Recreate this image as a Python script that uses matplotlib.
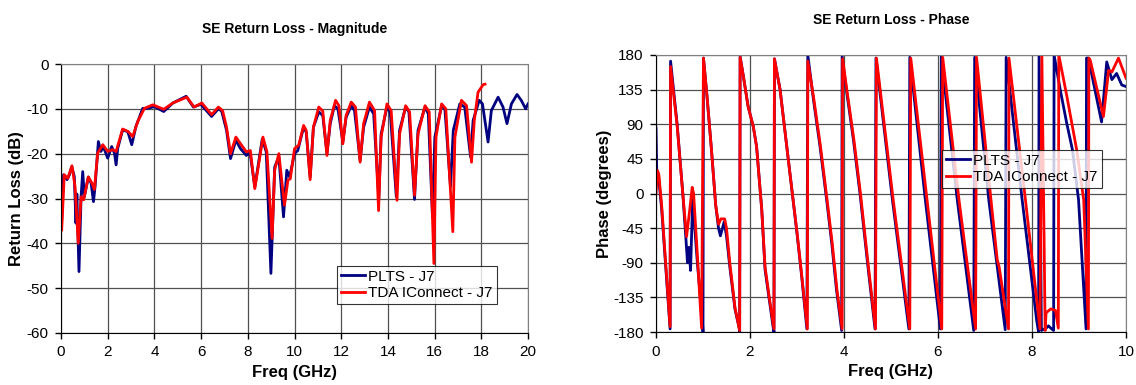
import numpy as np
import matplotlib
matplotlib.use("Agg")
from matplotlib import pyplot as plt

plt.rcParams["font.family"] = ["Liberation Sans", "DejaVu Sans"]
plt.rcParams["axes.unicode_minus"] = False

# ---- SE return loss magnitude (dB) ----
freq_mag_plts = [0.03, 0.11, 0.26, 0.36, 0.46, 0.57, 0.64, 0.68, 0.77, 0.86, 0.93, 1.0, 1.17, 1.29, 1.39, 1.46,
                 1.6, 1.71, 1.81, 2.0, 2.17, 2.29, 2.36, 2.43, 2.64, 2.86, 3.03, 3.21, 3.5, 3.71, 4.0, 4.4,
                 4.79, 5.36, 5.67, 5.99, 6.45, 6.74, 6.88, 7.09, 7.26, 7.49, 7.69, 7.94, 8.09, 8.3, 8.62,
                 8.79, 8.99, 9.15, 9.33, 9.53, 9.67, 9.79, 10.0, 10.14, 10.39, 10.5, 10.67, 10.81, 11.04,
                 11.21, 11.39, 11.53, 11.71, 11.86, 12.07, 12.21, 12.43, 12.57, 12.81, 12.96, 13.21, 13.39,
                 13.61, 13.71, 13.96, 14.1, 14.36, 14.5, 14.76, 14.9, 15.14, 15.29, 15.59, 15.73, 15.91,
                 16.01, 16.3, 16.44, 16.68, 16.8, 17.08, 17.29, 17.54, 17.65, 17.91, 18.05, 18.29, 18.43,
                 18.72, 18.93, 19.1, 19.29, 19.53, 19.71, 19.9, 20.0]
rl_plts = [-35, -24.7, -25.8, -24.7, -22.9, -25.1, -35.5, -29, -46.3, -29.6, -24.0, -29.6, -25.2, -26.6,
           -30.7, -27.3, -17.3, -19.5, -18.4, -21.0, -18.4, -19.9, -22.5, -18.8, -14.7, -15.1, -18.0, -13.9,
           -9.9, -9.9, -9.5, -10.6, -8.7, -7.2, -9.6, -9.0, -11.7, -10.0, -10.5, -14.8, -21.1, -17.0, -18.9,
           -20.4, -19.6, -27.4, -16.7, -19.6, -46.7, -23.0, -20.7, -34.1, -23.7, -25.2, -20.0, -19.3, -14.1,
           -15.2, -25.2, -14.1, -10.7, -11.5, -20.0, -13.3, -9.3, -10.0, -17.4, -11.9, -9.3, -10.4, -21.5,
           -14.1, -9.6, -11.1, -30.0, -15.6, -9.6, -10.7, -29.6, -14.8, -9.6, -10.7, -30.2, -14.8, -9.6,
           -11.1, -34.1, -16.3, -9.3, -10.0, -27.4, -14.8, -8.9, -9.6, -20.7, -12.6, -8.1, -8.9, -17.4,
           -10.4, -7.4, -9.6, -13.3, -8.9, -6.8, -8.1, -10.0, -8.9]

freq_mag_tda = [0.03, 0.14, 0.29, 0.47, 0.6, 0.74, 0.86, 0.97, 1.17, 1.33, 1.43, 1.57, 1.79, 2.0, 2.21,
                2.36, 2.64, 2.89, 3.07, 3.29, 3.57, 3.93, 4.4, 4.79, 5.39, 5.7, 6.03, 6.45, 6.74, 6.92,
                7.09, 7.26, 7.49, 7.69, 7.94, 8.11, 8.3, 8.65, 8.82, 9.04, 9.15, 9.33, 9.57, 9.72, 9.82,
                10.0, 10.18, 10.39, 10.5, 10.67, 10.81, 11.04, 11.21, 11.39, 11.53, 11.76, 11.9, 12.07,
                12.21, 12.43, 12.61, 12.81, 12.96, 13.21, 13.43, 13.6, 13.71, 13.96, 14.14, 14.39, 14.5,
                14.76, 14.93, 15.14, 15.29, 15.59, 15.77, 15.97, 16.06, 16.3, 16.48, 16.78, 16.87, 17.15,
                17.37, 17.58, 17.7, 17.86, 18.08, 18.16]
rl_tda = [-37, -24.7, -25.5, -22.7, -27.3, -40.0, -29.6, -30.3, -25.2, -26.6, -28.0, -19.9, -18.0, -19.5,
          -19.1, -19.5, -14.5, -15.1, -16.2, -12.8, -9.9, -9.1, -10.1, -8.7, -7.4, -9.6, -8.7, -11.3, -9.6,
          -10.4, -14.1, -20.0, -16.3, -17.8, -19.6, -19.3, -27.8, -16.3, -19.6, -38.9, -23.7, -20.0, -31.5,
          -25.9, -25.6, -18.9, -18.1, -13.7, -14.8, -25.8, -14.1, -9.6, -10.5, -20.4, -12.6, -8.1, -9.3,
          -17.8, -11.5, -8.5, -9.6, -21.9, -13.3, -8.5, -10.4, -32.7, -16.3, -8.9, -10.4, -30.4, -15.6,
          -9.3, -10.7, -29.3, -15.6, -9.3, -10.7, -44.5, -16.3, -8.9, -10.0, -37.4, -16.3, -8.1, -9.3,
          -21.9, -12.6, -6.3, -4.6, -4.5]

# ---- SE return loss phase (degrees) ----
freq_ph_plts = [0.0, 0.02, 0.05, 0.12, 0.30, 0.31, 0.45, 0.57, 0.64, 0.67, 0.70, 0.735, 0.78, 0.88, 0.99,
                1.0, 1.01, 1.08, 1.18, 1.27, 1.33, 1.37, 1.45, 1.5, 1.57, 1.68, 1.77, 1.78, 1.79, 1.86,
                1.96, 2.07, 2.14, 2.25, 2.32, 2.41, 2.5, 2.51, 2.52, 2.64, 2.74, 2.85, 3.0, 3.1, 3.21,
                3.23, 3.35, 3.49, 3.63, 3.74, 3.84, 3.95, 3.96, 4.05, 4.2, 4.34, 4.5, 4.66, 4.68, 5.03,
                5.38, 5.40, 5.73, 6.05, 6.07, 6.41, 6.76, 6.78, 7.08, 7.43, 7.45, 7.79, 8.1, 8.14, 8.15,
                8.2, 8.3, 8.35, 8.4, 8.46, 8.47, 8.6, 8.74, 8.86, 8.99, 9.15, 9.16, 9.2, 9.48, 9.59, 9.7,
                9.8, 9.91, 10.0]
ph_plts = [85, 15, 25, -20, -176, 172, 90, 0, -62, -90, -70, -100, -8, -90, -168, -180, 176, 130, 57,
           -15, -45, -55, -37, -55, -95, -150, -175, -180, 178, 152, 113, 87, 61, -21, -99, -138, -177,
           -180, 175, 135, 83, 26, -52, -108, -176, 180, 122, 61, -8, -65, -125, -178, 178, 135, 70, 0,
           -90, -176, 176, -8, -176, 177, -8, -176, 178, -8, -178, 177, -8, -177, 177, -8, -165, -180,
           180, -178, -175, -172, -175, -178, 180, 135, 91, 57, -8, -176, 176, 176, 93, 171, 148, 156,
           141, 139]

freq_ph_tda = [0.0, 0.03, 0.06, 0.12, 0.30, 0.31, 0.45, 0.57, 0.65, 0.72, 0.77, 0.8, 0.88, 0.97, 1.01,
               1.08, 1.18, 1.27, 1.33, 1.38, 1.46, 1.5, 1.57, 1.68, 1.78, 1.79, 1.86, 1.96, 2.07, 2.14,
               2.25, 2.32, 2.41, 2.51, 2.52, 2.64, 2.74, 2.85, 3.0, 3.1, 3.22, 3.23, 3.36, 3.5, 3.64,
               3.75, 3.85, 3.96, 3.97, 4.06, 4.21, 4.35, 4.51, 4.67, 4.69, 5.05, 5.4, 5.42, 5.77, 6.08,
               6.1, 6.45, 6.8, 6.82, 7.13, 7.26, 7.3, 7.5, 7.51, 7.86, 8.17, 8.21, 8.28, 8.3, 8.4, 8.5,
               8.56, 8.57, 8.74, 8.95, 9.1, 9.2, 9.21, 9.24, 9.52, 9.63, 9.7, 9.84, 10.0]
ph_tda = [0, 30, 25, -15, -173, 165, 88, 0, -56, -20, 8, 0, -80, -175, 176, 130, 57, -15, -40, -33, -33,
          -45, -90, -148, -178, 177, 152, 113, 87, 61, -21, -95, -135, -176, 175, 135, 83, 26, -50, -106,
          -176, 172, 122, 61, -8, -65, -125, -176, 175, 135, 70, 0, -90, -176, 176, -10, -176, 176, -10,
          -176, 177, -10, -176, 177, -10, -86, -95, -176, 176, -8, -176, 180, -178, -155, -150, -152,
          -175, 180, 127, 57, -8, -176, 176, 173, 100, 160, 158, 176, 150]

blue = "#000080"
red = "#FF0000"
grid_c = "#505050"

fig = plt.figure(figsize=(11.36, 3.85), dpi=100)
ax1 = fig.add_axes([61 / 1136, 52 / 385, 467 / 1136, 269 / 385])
ax2 = fig.add_axes([656 / 1136, 53 / 385, 470 / 1136, 277 / 385])

ax1.plot(freq_mag_plts, rl_plts, color=blue, lw=2, label="PLTS - J7")
ax1.plot(freq_mag_tda, rl_tda, color=red, lw=2, label="TDA IConnect - J7")
ax1.set_xlim(0, 20)
ax1.set_ylim(-60, 0)
ax1.set_xticks(np.arange(0, 21, 2))
ax1.set_yticks(np.arange(-60, 1, 10))
ax1.set_xlabel("Freq (GHz)", fontweight="bold", fontsize=12, labelpad=4)
ax1.set_ylabel("Return Loss (dB)", fontweight="bold", fontsize=12, labelpad=2)
ax1.set_title("SE Return Loss - Magnitude", fontweight="bold", fontsize=10, pad=22)

ax2.plot(freq_ph_plts, ph_plts, color=blue, lw=2, label="PLTS - J7")
ax2.plot(freq_ph_tda, ph_tda, color=red, lw=2, label="TDA IConnect - J7")
ax2.set_xlim(0, 10)
ax2.set_ylim(-180, 180)
ax2.set_xticks(np.arange(0, 11, 2))
ax2.set_yticks(np.arange(-180, 181, 45))
ax2.set_xlabel("Freq (GHz)", fontweight="bold", fontsize=12, labelpad=4)
ax2.set_ylabel("Phase (degrees)", fontweight="bold", fontsize=12, labelpad=1)
ax2.set_title("SE Return Loss - Phase", fontweight="bold", fontsize=10, pad=22)

for ax in (ax1, ax2):
    ax.grid(True, color=grid_c, lw=0.9)
    ax.set_axisbelow(True)
    ax.tick_params(labelsize=11, direction="out", length=4, width=1, color="black", pad=5)
    for side in ("top", "right"):
        ax.spines[side].set_color("#808080")
    for side in ("left", "bottom"):
        ax.spines[side].set_color("black")

leg_kw = dict(loc="upper left", fontsize=11, frameon=True, fancybox=False, edgecolor="black",
              borderpad=0.25, labelspacing=0.15, handlelength=1.6, handletextpad=0.2, borderaxespad=0)
ax1.legend(bbox_to_anchor=(0.591, 0.249), **leg_kw).get_frame().set_linewidth(0.8)
ax2.legend(bbox_to_anchor=(0.6085, 0.657), **leg_kw).get_frame().set_linewidth(0.8)

fig.savefig("out.png", dpi=100)
